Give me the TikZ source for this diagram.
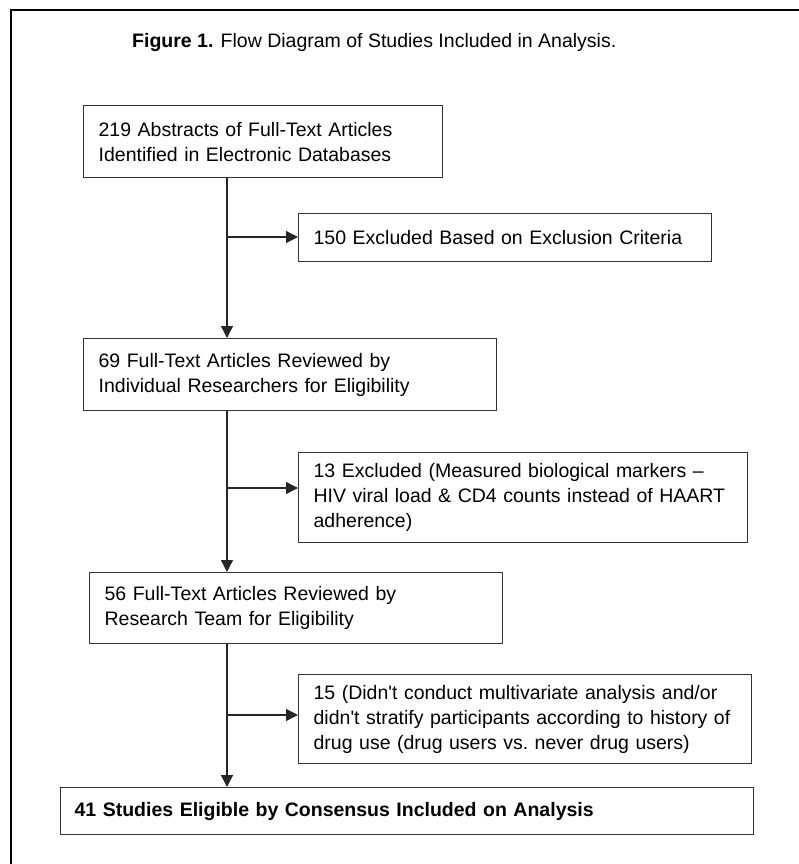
\documentclass[tikz,border=0pt]{standalone}
\usepackage{fontspec}
\setmainfont{Liberation Sans}
\usetikzlibrary{arrows.meta}

\begin{document}
\begin{tikzpicture}[x=1pt, y=-1pt,
    box/.style={draw=black!80, line width=1.3pt, anchor=north west, align=left,
                inner xsep=15pt, inner ysep=0pt,
                font=\fontsize{19.5}{25}\selectfont},
    flow/.style={line width=1.3pt, draw=black!85,
                 -{Triangle[length=12pt, width=12pt]}}]
    \useasboundingbox (0,0) rectangle (799,864);
    \fill[white] (0,0) rectangle (799,864);

    % Outer frame
    \draw[line width=2pt] (11,864) -- (11,10) -- (799,10);

    % Title
    \node[anchor=base west, inner sep=0pt, font=\fontsize{19.5}{25}\selectfont]
        (title) at (132,48) {\textbf{Figure 1.} Flow Diagram of Studies Included in Analysis.};

    % Main boxes
    \node[box, text width=329pt, minimum height=72pt] (abstracts) at (83,105)
        {219 Abstracts of Full-Text Articles\\Identified in Electronic Databases};
    \node[box, text width=383pt, minimum height=72pt] (indiv) at (83,338)
        {69 Full-Text Articles Reviewed by\\Individual Researchers for Eligibility};
    \node[box, text width=383pt, minimum height=71pt] (team) at (89,572)
        {56 Full-Text Articles Reviewed by\\Research Team for Eligibility};
    \node[box, text width=665pt, minimum height=47pt, inner xsep=14pt] (final) at (60,787)
        {\textbf{41 Studies Eligible by Consensus Included on Analysis}};

    % Exclusion boxes
    \node[box, text width=383pt, minimum height=48pt] (excl1) at (298,213)
        {150 Excluded Based on Exclusion Criteria};
    \node[box, text width=419pt, minimum height=90pt] (excl2) at (298,452)
        {13 Excluded (Measured biological markers --\\HIV viral load \& CD4 counts instead of HAART\\adherence)};
    \node[box, text width=423pt, minimum height=89pt] (excl3) at (298,674)
        {15 (Didn\textquotesingle t conduct multivariate analysis and/or\\didn\textquotesingle t stratify participants according to history of\\drug use (drug users vs.\ never drug users)};

    % Trunk and branch points
    \coordinate (trunk) at (227,0);
    \coordinate (j1) at (227,237);
    \coordinate (j2) at (227,488);
    \coordinate (j3) at (227,715);

    % Downward flow
    \draw[flow] (abstracts.south -| trunk) -- (indiv.north -| trunk);
    \draw[flow] (indiv.south -| trunk) -- (team.north -| trunk);
    \draw[flow] (team.south -| trunk) -- (final.north -| trunk);

    % Exclusions
    \draw[flow] (j1) -- (j1 -| excl1.west);
    \draw[flow] (j2) -- (j2 -| excl2.west);
    \draw[flow] (j3) -- (j3 -| excl3.west);
\end{tikzpicture}
\end{document}
